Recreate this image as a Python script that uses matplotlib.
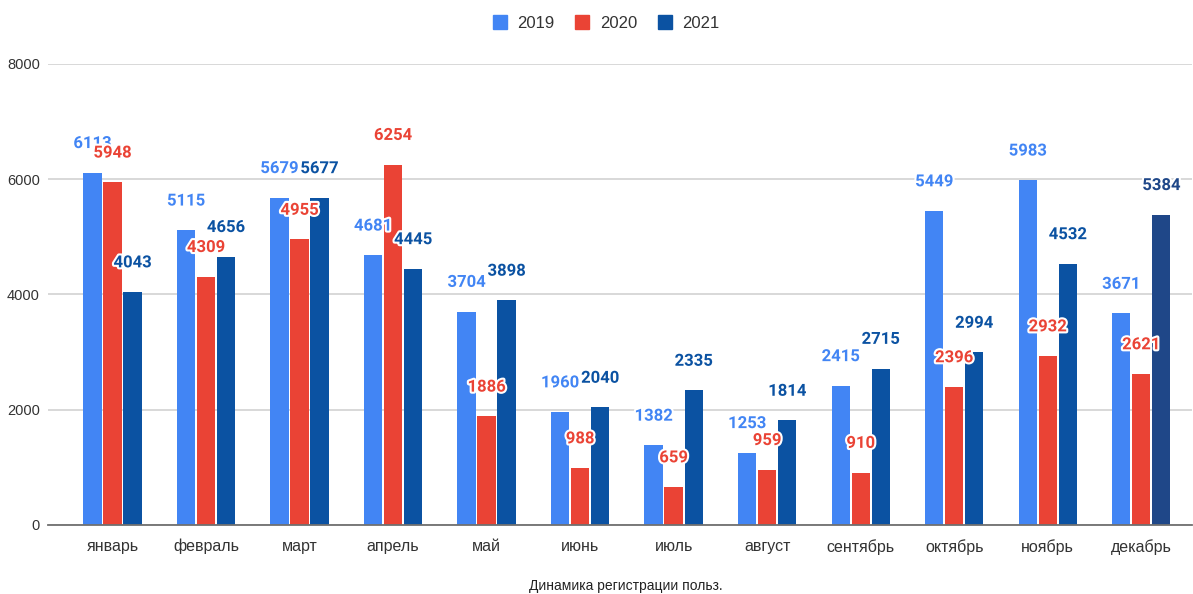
import matplotlib
matplotlib.use("Agg")
import matplotlib.pyplot as plt
import matplotlib.patheffects as pe
import numpy as np

# month categories and yearly registrations
months = ["январь", "февраль", "март", "апрель", "май", "июнь",
          "июль", "август", "сентябрь", "октябрь", "ноябрь", "декабрь"]
years = ["2019", "2020", "2021"]
v2019 = [6113, 5115, 5679, 4681, 3704, 1960, 1382, 1253, 2415, 5449, 5983, 3671]
v2020 = [5948, 4309, 4955, 6254, 1886, 988, 659, 959, 910, 2396, 2932, 2621]
v2021 = [4043, 4656, 5677, 4445, 3898, 2040, 2335, 1814, 2715, 2994, 4532, 5384]
series = [v2019, v2020, v2021]

colors = ["#4285f4", "#ea4335", "#0b52a2"]
# the last 2021 bar is drawn in a darker shade in the original
dec_2021_color = "#1f4788"

fig = plt.figure(figsize=(11.93, 5.94), dpi=100)
ax = fig.add_axes([0.0405, 0.1162, 0.9585, 0.7761])

x = np.arange(len(months))
w = 0.196
step = 0.214

for i, (vals, col) in enumerate(zip(series, colors)):
    pos = x + (i - 1) * step
    bar_cols = [col] * len(vals)
    if i == 2:
        bar_cols[-1] = dec_2021_color
    ax.bar(pos, vals, w, color=bar_cols, zorder=2)
    for xp, v, c in zip(pos, vals, bar_cols):
        ax.annotate(str(v), (xp, v), xytext=(0, 21), textcoords="offset points",
                    ha="center", va="center", color=c, fontsize=12,
                    fontweight="bold", family="Roboto", zorder=5 + i,
                    path_effects=[pe.withStroke(linewidth=3, foreground="white")])

ax.set_xlim(-0.686, 11.54)
ax.set_ylim(0, 8000)
ax.set_yticks([0, 2000, 4000, 6000, 8000])
ax.set_xticks(x)
ax.set_xticklabels(months)
ax.grid(axis="y", color="#d6d6d6", lw=1.3, zorder=0)
ax.set_axisbelow(True)
for s in ["top", "right", "left"]:
    ax.spines[s].set_visible(False)
ax.spines["bottom"].set_color("#707070")
ax.spines["bottom"].set_linewidth(1.3)
ax.spines["bottom"].set_zorder(3)
ax.tick_params(axis="both", length=0, labelcolor="#333333",
               labelfontfamily="Liberation Sans")
ax.tick_params(axis="x", pad=10, labelsize=11.5)
ax.tick_params(axis="y", pad=6, labelsize=10.5)

handles = [plt.Line2D([], [], marker="s", ls="", markersize=10.5, color=c)
           for c in colors]
fig.legend(handles, years, loc="center", bbox_to_anchor=(606 / 1193, 1 - 23 / 594),
           ncol=3, frameon=False, prop={"family": "Liberation Sans", "size": 12},
           labelcolor="#333333", handlelength=0.9, handletextpad=0.6,
           columnspacing=1.2)

fig.text(626 / 1193, 1 - 586 / 594, "Динамика регистрации польз.",
         ha="center", va="center", fontsize=10, color="#222222",
         family="Liberation Sans")

fig.savefig("out.png", dpi=100)
